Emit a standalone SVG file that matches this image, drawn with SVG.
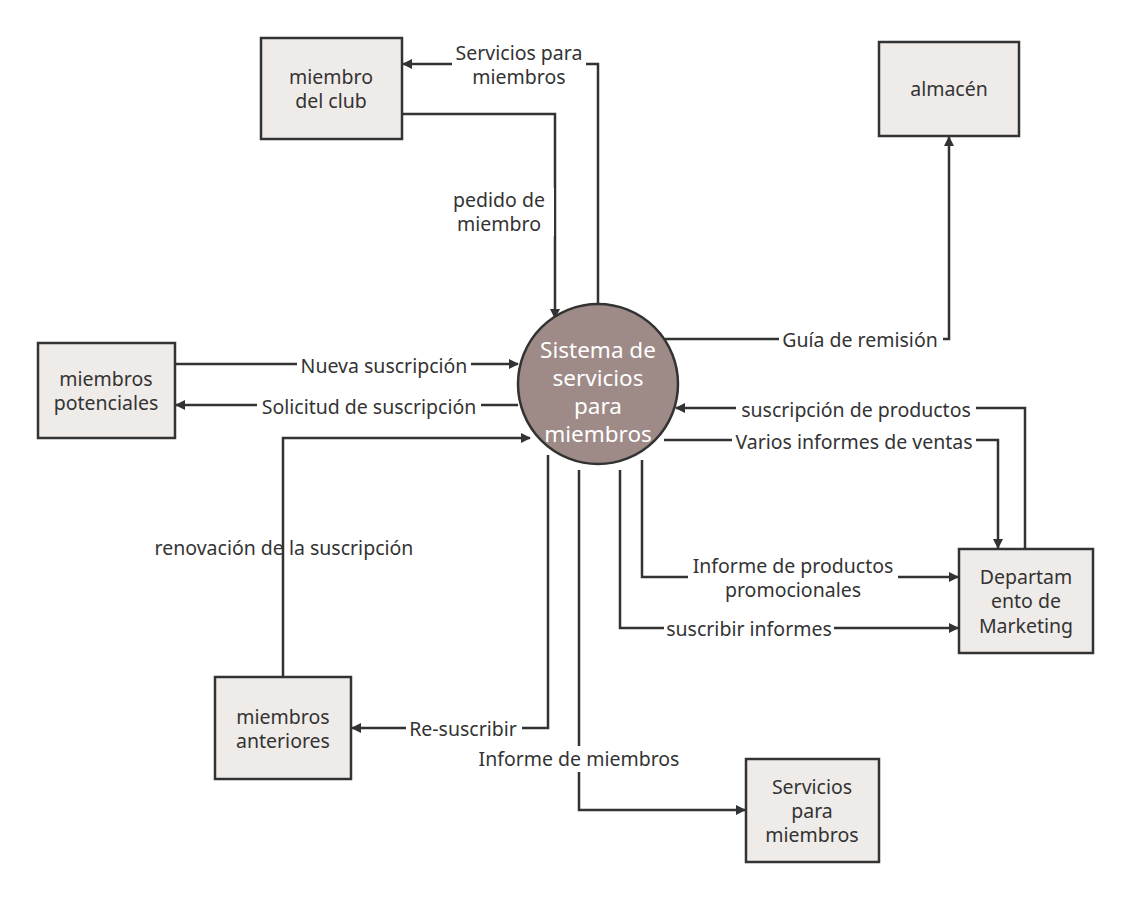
<svg xmlns="http://www.w3.org/2000/svg" width="1130" height="900" viewBox="0 0 1130 900">
<defs>
<marker id="a" markerWidth="10" markerHeight="10" refX="9" refY="5" orient="auto" markerUnits="userSpaceOnUse"><path d="M0,0 L10,5 L0,10 z" fill="#333"/></marker>
<style>
.n{fill:#efebe9;stroke:#333;stroke-width:2.5}
.t{font-family:"Noto Sans","DejaVu Sans",sans-serif;font-size:19.5px;fill:#333;text-anchor:middle}
.c path{fill:none;stroke:#333;stroke-width:2.5;marker-end:url(#a)}
.lb{fill:#fff}
.w{fill:#fff;font-size:22.5px}
</style>
</defs>
<rect width="1130" height="900" fill="#fff"/>
<g class="c">
<path d="M400,114 H555 V318"/>
<path d="M598,304 V64 H403"/>
<path d="M665,339 H949 V137"/>
<path d="M175,364 H518"/>
<path d="M518,405 H176"/>
<path d="M283,677 V438 H530"/>
<path d="M1025,549 V408 H676"/>
<path d="M664,440 H998 V548"/>
<path d="M642,460 V577 H958"/>
<path d="M620,470 V628 H958"/>
<path d="M548,455 V728 H352"/>
<path d="M579,470 V810 H745"/>
</g>
<g id="labels">
<rect class="lb" x="452" y="42" width="134" height="48"/>
<text class="t" x="519" y="60">Servicios para</text><text class="t" x="519" y="84">miembros</text>
<rect class="lb" x="446" y="188" width="108" height="48"/>
<text class="t" x="499" y="207">pedido de</text><text class="t" x="499" y="231">miembro</text>
<rect class="lb" x="779" y="327" width="164" height="26"/>
<text class="t" x="860" y="347">Guía de remisión</text>
<rect class="lb" x="297" y="353" width="174" height="26"/>
<text class="t" x="384" y="373">Nueva suscripción</text>
<rect class="lb" x="257" y="394" width="224" height="26"/>
<text class="t" x="369" y="414">Solicitud de suscripción</text>
<text class="t" x="284" y="555">renovación de la suscripción</text>
<rect class="lb" x="736" y="397" width="240" height="26"/>
<text class="t" x="856" y="417">suscripción de productos</text>
<rect class="lb" x="732" y="429" width="244" height="26"/>
<text class="t" x="854" y="449">Varios informes de ventas</text>
<rect class="lb" x="688" y="554" width="210" height="48"/>
<text class="t" x="793" y="573">Informe de productos</text><text class="t" x="793" y="597">promocionales</text>
<rect class="lb" x="664" y="616" width="170" height="26"/>
<text class="t" x="749" y="636">suscribir informes</text>
<rect class="lb" x="406" y="716" width="116" height="26"/>
<text class="t" x="463" y="736">Re-suscribir</text>
<rect class="lb" x="476" y="746" width="206" height="26"/>
<text class="t" x="579" y="766">Informe de miembros</text>
</g>
<g id="club"><rect class="n" x="261" y="38" width="141" height="101"/><text class="t" x="331" y="84">miembro</text><text class="t" x="331" y="108">del club</text></g>
<g id="almacen"><rect class="n" x="879" y="42" width="140" height="94"/><text class="t" x="949" y="96">almacén</text></g>
<g id="potenciales"><rect class="n" x="38" y="343" width="137" height="95"/><text class="t" x="106" y="386">miembros</text><text class="t" x="106" y="410">potenciales</text></g>
<g id="sistema"><circle cx="598" cy="384" r="80" fill="#9e8a87" stroke="#333" stroke-width="2.5"/>
<text class="t w" x="598" y="358">Sistema de</text><text class="t w" x="598" y="386">servicios</text><text class="t w" x="598" y="414">para</text><text class="t w" x="598" y="442">miembros</text></g>
<g id="marketing"><rect class="n" x="959" y="549" width="134" height="104"/><text class="t" x="1026" y="584">Departam</text><text class="t" x="1026" y="608">ento de</text><text class="t" x="1026" y="633">Marketing</text></g>
<g id="anteriores"><rect class="n" x="215" y="677" width="136" height="102"/><text class="t" x="283" y="724">miembros</text><text class="t" x="283" y="748">anteriores</text></g>
<g id="servicios"><rect class="n" x="746" y="759" width="133" height="103"/><text class="t" x="812" y="794">Servicios</text><text class="t" x="812" y="818">para</text><text class="t" x="812" y="842">miembros</text></g>
</svg>
